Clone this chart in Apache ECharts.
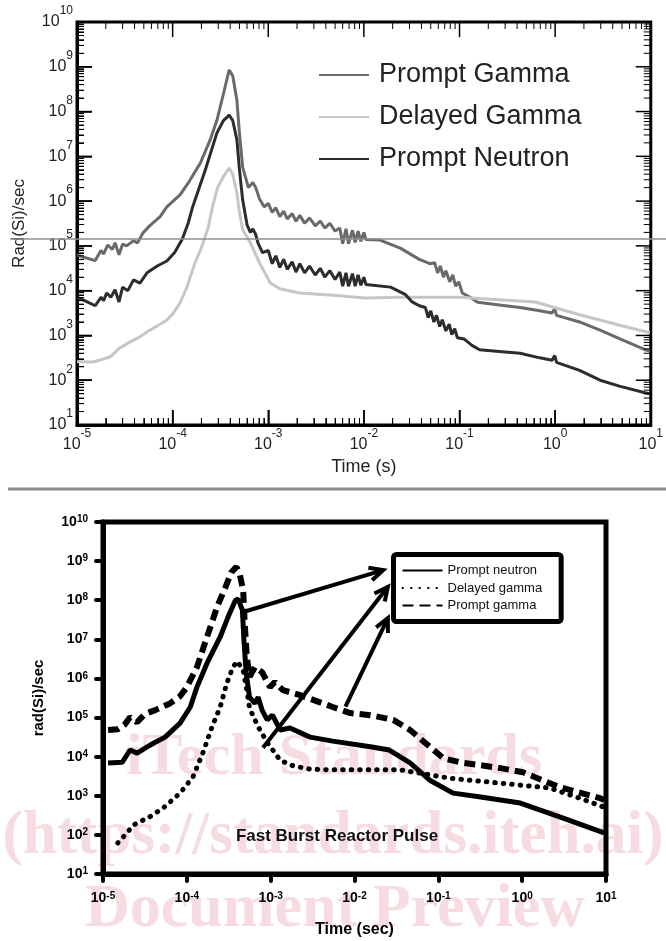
<!DOCTYPE html>
<html><head><meta charset="utf-8">
<script src="https://cdn.jsdelivr.net/npm/echarts@6/dist/echarts.min.js"></script>
<style>html,body{margin:0;padding:0;background:#fff}#c{width:666px;height:941px}</style>
</head><body><div id="c"></div><script>
// ---------- tick labels (powers of ten) ----------
const timeTickExp = [-5, -4, -3, -2, -1, 0, 1];
const rateTickExp = [1, 2, 3, 4, 5, 6, 7, 8, 9, 10];
const minorTickMultipliers = [2, 3, 4, 5, 6, 7, 8, 9];

// ---------- top panel series: [time (s), rate (rad(Si)/s)] ----------
const topPromptGamma = [[1.0e-5,6.3e4],[1.2e-5,5.5e4],[1.55e-5,4.7e4],[1.78e-5,7.9e4],[1.9e-5,6.6e4],[2.1e-5,1.05e5],[2.34e-5,8.3e4],[2.5e-5,1.17e5],[2.75e-5,6.3e4],[3.0e-5,1.1e5],[3.3e-5,1.0e5],[3.9e-5,1.3e5],[4.3e-5,1.17e5],[4.9e-5,1.95e5],[5.75e-5,2.8e5],[7.4e-5,4.5e5],[8.7e-5,7.4e5],[1.2e-4,1.4e6],[1.5e-4,2.8e6],[1.95e-4,7.1e6],[2.45e-4,2.24e7],[2.9e-4,6.3e7],[3.4e-4,2.5e8],[3.9e-4,8.5e8],[4.25e-4,6.3e8],[4.7e-4,1.8e8],[5.0e-4,3.2e7],[5.4e-4,5.75e6],[6.2e-4,2.0e6],[6.9e-4,2.6e6],[7.4e-4,2.0e6],[8.1e-4,1.12e6],[9.1e-4,7.4e5],[1.0e-3,8.9e5],[1.1e-3,5.6e5],[1.2e-3,7.1e5],[1.32e-3,4.5e5],[1.45e-3,6.0e5],[1.58e-3,4.0e5],[1.78e-3,5.25e5],[1.95e-3,3.55e5],[2.14e-3,4.8e5],[2.4e-3,3.2e5],[2.7e-3,4.2e5],[3.1e-3,2.8e5],[3.5e-3,3.6e5],[3.9e-3,2.5e5],[4.4e-3,3.2e5],[5.0e-3,2.14e5],[5.6e-3,2.5e5],[6.0e-3,1.12e5],[6.5e-3,2.4e5],[6.9e-3,1.12e5],[7.6e-3,2.24e5],[8.1e-3,1.2e5],[8.7e-3,2.14e5],[9.3e-3,1.26e5],[1.0e-2,2.0e5],[1.05e-2,1.38e5],[1.48e-2,1.35e5],[2.4e-2,8.9e4],[3.8e-2,5.0e4],[4.9e-2,4.0e4],[5.5e-2,4.2e4],[5.9e-2,2.5e4],[6.3e-2,3.55e4],[6.8e-2,2.0e4],[7.2e-2,2.8e4],[7.9e-2,1.58e4],[8.5e-2,2.24e4],[9.1e-2,1.26e4],[9.8e-2,1.58e4],[0.107,8.9e3],[0.129,7.1e3],[0.155,5.5e3],[0.26,4.8e3],[0.43,4.2e3],[0.69,3.55e3],[0.93,3.16e3],[0.99,4.0e3],[1.035,2.8e3],[1.8,2.0e3],[2.95,1.32e3],[4.7,8.5e2],[8.7,4.8e2],[9.8,4.5e2]];
const topDelayedGamma = [[1.0e-5,2.6e2],[1.45e-5,2.55e2],[1.74e-5,2.8e2],[2.0e-5,3.1e2],[2.2e-5,3.3e2],[2.5e-5,4.2e2],[2.8e-5,5.25e2],[3.55e-5,7.1e2],[4.55e-5,9.3e2],[5.75e-5,1.3e3],[7.4e-5,1.78e3],[8.7e-5,2.2e3],[1.0e-4,3.0e3],[1.2e-4,5.4e3],[1.41e-4,1.2e4],[1.7e-4,4.0e4],[1.95e-4,7.9e4],[2.35e-4,2.5e5],[2.63e-4,7.9e5],[2.95e-4,2.0e6],[3.4e-4,3.55e6],[3.9e-4,5.5e6],[4.25e-4,4.0e6],[4.7e-4,1.5e6],[5.0e-4,5.6e5],[5.4e-4,2.3e5],[6.5e-4,1.17e5],[8.1e-4,4.2e4],[1.05e-3,1.48e4],[1.32e-3,1.1e4],[2.14e-3,8.9e3],[4.8e-3,7.9e3],[1.02e-2,6.9e3],[2.4e-2,7.1e3],[0.1,7.1e3],[0.26,6.3e3],[0.62,5.6e3],[1.8,2.9e3],[6.0,1.48e3],[9.8,1.15e3]];
const topPromptNeutron = [[1.0e-5,7.2e3],[1.2e-5,6.0e3],[1.55e-5,4.6e3],[1.78e-5,7.1e3],[1.9e-5,6.0e3],[2.04e-5,8.9e3],[2.26e-5,7.1e3],[2.5e-5,1.05e4],[2.75e-5,5.6e3],[3.0e-5,1.2e4],[3.4e-5,1.0e4],[3.9e-5,1.74e4],[4.55e-5,1.48e4],[5.4e-5,2.5e4],[6.9e-5,3.55e4],[8.7e-5,4.6e4],[1.05e-4,7.1e4],[1.26e-4,1.41e5],[1.45e-4,3.16e5],[1.62e-4,7.4e5],[2.2e-4,5.0e6],[2.9e-4,3.3e7],[3.4e-4,6.3e7],[3.9e-4,8.3e7],[4.25e-4,6.3e7],[4.7e-4,2.34e7],[5.0e-4,5.0e6],[5.4e-4,1.07e6],[6.0e-4,2.95e5],[6.5e-4,2.0e5],[6.9e-4,2.4e5],[7.4e-4,1.78e5],[7.8e-4,1.17e5],[8.7e-4,7.1e4],[1.0e-3,7.9e4],[1.1e-3,4.0e4],[1.2e-3,6.0e4],[1.32e-3,3.3e4],[1.45e-3,5.0e4],[1.58e-3,3.0e4],[1.78e-3,4.4e4],[1.95e-3,2.6e4],[2.14e-3,4.0e4],[2.4e-3,2.5e4],[2.7e-3,3.55e4],[3.1e-3,2.24e4],[3.5e-3,3.16e4],[3.9e-3,2.0e4],[4.4e-3,2.8e4],[5.0e-3,1.78e4],[5.6e-3,2.6e4],[6.0e-3,1.26e4],[6.5e-3,2.5e4],[6.9e-3,1.26e4],[7.6e-3,2.4e4],[8.1e-3,1.26e4],[8.7e-3,2.24e4],[9.3e-3,1.32e4],[1.0e-2,2.0e4],[1.05e-2,1.38e4],[1.9e-2,1.2e4],[2.7e-2,8.3e3],[3.2e-2,5.6e3],[3.8e-2,4.6e3],[4.4e-2,4.2e3],[4.7e-2,2.5e3],[5.0e-2,3.55e3],[5.4e-2,2.0e3],[5.75e-2,2.8e3],[6.2e-2,1.58e3],[6.6e-2,2.24e3],[7.2e-2,1.26e3],[7.8e-2,1.78e3],[8.3e-2,1.05e3],[8.9e-2,1.41e3],[9.5e-2,8.9e2],[0.112,8.3e2],[0.135,6.0e2],[0.162,4.8e2],[0.26,4.4e2],[0.43,4.0e2],[0.69,3.16e2],[0.93,2.8e2],[0.99,3.55e2],[1.035,2.5e2],[1.8,1.66e2],[2.95,1.0e2],[4.7,7.4e1],[8.7,5.25e1],[9.8,5.0e1]];

// ---------- bottom panel series ----------
const botPromptNeutron = [[1.15e-5,6.9e3],[1.7e-5,7.2e3],[2.1e-5,1.48e4],[2.55e-5,1.23e4],[3.4e-5,1.8e4],[4.0e-5,2.2e4],[5.5e-5,3.16e4],[8.3e-5,7.2e4],[1.1e-4,1.86e5],[1.32e-4,6.0e5],[1.74e-4,2.45e6],[2.5e-4,1.15e7],[3.1e-4,3.7e7],[3.8e-4,1.0e8],[4.1e-4,1.07e8],[4.6e-4,5.6e7],[4.8e-4,9.5e6],[5.1e-4,1.38e6],[5.6e-4,3.3e5],[6.5e-4,2.3e5],[7.1e-4,3.3e5],[7.9e-4,1.55e5],[9.1e-4,8.7e4],[1.05e-3,1.15e5],[1.3e-3,4.8e4],[1.7e-3,5.4e4],[2.95e-3,3.16e4],[5.5e-3,2.5e4],[1.55e-2,1.8e4],[2.6e-2,1.48e4],[4.6e-2,6.9e3],[7.9e-2,2.5e3],[0.15,1.17e3],[0.32,9.3e2],[0.95,6.5e2],[2.8,2.9e2],[9.5,1.12e2]];
const botDelayedGamma = [[1.5e-5,6.2e1],[1.93e-5,1.12e2],[2.3e-5,1.78e2],[3.6e-5,2.9e2],[5.2e-5,4.8e2],[8.3e-5,1.17e3],[1.18e-4,3.0e3],[1.55e-4,1.23e4],[2.0e-4,5.8e4],[2.5e-4,1.86e5],[3.0e-4,7.6e5],[3.55e-4,1.95e6],[4.0e-4,2.75e6],[4.7e-4,1.62e6],[5.2e-4,5.0e5],[5.6e-4,1.74e5],[7.1e-4,5.8e4],[9.1e-4,2.3e4],[1.3e-3,8.1e3],[1.86e-3,5.8e3],[2.95e-3,4.8e3],[5.5e-3,4.6e3],[3.5e-2,4.6e3],[6.0e-2,3.8e3],[0.138,2.8e3],[0.55,2.1e3],[2.14,1.58e3],[5.6,7.8e2],[9.5,5.1e2]];
const botPromptGamma = [[1.15e-5,4.8e4],[1.5e-5,5.0e4],[1.8e-5,6.5e4],[2.1e-5,1.02e5],[2.55e-5,7.6e4],[3.16e-5,1.23e5],[4.2e-5,1.55e5],[6.3e-5,2.3e5],[8.3e-5,3.5e5],[1.0e-4,6.0e5],[1.32e-4,1.95e6],[1.74e-4,1.15e7],[2.3e-4,6.8e7],[2.9e-4,2.2e8],[3.4e-4,5.2e8],[3.9e-4,7.1e8],[4.3e-4,4.4e8],[4.7e-4,1.8e8],[4.9e-4,2.6e7],[5.2e-4,3.5e6],[5.6e-4,1.1e6],[6.5e-4,1.95e6],[7.9e-4,1.45e6],[9.8e-4,6.0e5],[1.12e-3,8.1e5],[1.4e-3,5.0e5],[2.2e-3,3.8e5],[5.5e-3,1.86e5],[8.9e-3,1.3e5],[1.55e-2,1.15e5],[2.9e-2,8.7e4],[4.6e-2,4.8e4],[7.9e-2,1.8e4],[0.115,9.1e3],[0.18,7.2e3],[0.55,5.1e3],[1.02,4.0e3],[2.8,1.66e3],[8.5,8.7e2],[9.5,7.8e2]];

// ---------- annotation arrows (data space) ----------
const arrowFromTime = [4.7e-4, 8.1e-4, 7.8e-3];
const arrowFromRate = [5.0e7, 1.7e4, 1.9e5];
const arrowToTime = [2.2e-2, 2.5e-2, 2.5e-2];
const arrowToRate = [5.9e8, 2.2e8, 3.5e7];

const SANS = '"Liberation Sans", Arial, Helvetica, sans-serif';
const SERIF = '"Liberation Serif", "Times New Roman", serif';
function expLabel(v) {
  return '{b|10}{e|' + Math.round(Math.log10(v)) + '}';
}

// tick-mark positions of the upper panel frame (axis decoration, derived from the tick exponents)
const tMin = Math.pow(10, timeTickExp[0]);
const tMax = Math.pow(10, timeTickExp[timeTickExp.length - 1]);
const rMin = Math.pow(10, rateTickExp[0]);
const rMax = Math.pow(10, rateTickExp[rateTickExp.length - 1]);
const frameTicks = [];
timeTickExp.forEach(function (e, i) {
  frameTicks.push([Math.pow(10, e), rMin, 0, 15]);
  if (i < timeTickExp.length - 1) {
    minorTickMultipliers.forEach(function (m) { frameTicks.push([m * Math.pow(10, e), rMin, 0, 7]); });
  }
});
rateTickExp.forEach(function (e, i) {
  frameTicks.push([tMin, Math.pow(10, e), 1, 15]);
  if (i < rateTickExp.length - 1) {
    minorTickMultipliers.forEach(function (m) { frameTicks.push([tMin, m * Math.pow(10, e), 1, 7]); });
  }
});

const chart = echarts.init(document.getElementById('c'), null, {renderer: 'canvas'});

const topRich = {
  b: {fontSize: 16, fontFamily: SANS, color: '#222'},
  e: {fontSize: 12, fontFamily: SANS, color: '#222', padding: [0, 0, 22, 0]}
};
const botRich = {
  b: {fontSize: 14, fontWeight: 'bold', fontFamily: SANS, color: '#000'},
  e: {fontSize: 10, fontWeight: 'bold', fontFamily: SANS, color: '#000', padding: [0, 0, 5, 0]}
};

const option = {
  animation: false,
  grid: [
    {left: 77, top: 22, width: 574, height: 403, show: true, borderColor: '#000', borderWidth: 3, backgroundColor: 'transparent'},
    {left: 103, top: 522, width: 503, height: 352, show: true, borderColor: '#000', borderWidth: 5, backgroundColor: 'transparent'}
  ],
  xAxis: [
    {
      type: 'log', logBase: 10, gridIndex: 0, min: 1e-5, max: 10, splitNumber: 6,
      axisLine: {show: true, onZero: false, lineStyle: {color: '#000', width: 3}},
      axisTick: {show: true, inside: true, length: 15, lineStyle: {color: '#000', width: 1.5}},
      minorTick: {show: true, splitNumber: 9, length: 7, lineStyle: {color: '#000', width: 1}},
      splitLine: {show: false}, minorSplitLine: {show: false},
      axisLabel: {margin: 3, formatter: expLabel, rich: topRich},
      name: 'Time (s)', nameLocation: 'middle', nameGap: 33,
      nameTextStyle: {fontSize: 18, fontFamily: SANS, color: '#222'}
    },
    {
      type: 'log', logBase: 10, gridIndex: 1, min: 1e-5, max: 10, splitNumber: 6,
      axisLine: {show: true, onZero: false, lineStyle: {color: '#000', width: 5}},
      axisTick: {show: true, inside: false, length: 7, lineStyle: {color: '#000', width: 4, cap: 'round'}},
      splitLine: {show: false},
      axisLabel: {margin: 17, formatter: expLabel, rich: botRich},
      name: 'Time (sec)', nameLocation: 'middle', nameGap: 48,
      nameTextStyle: {fontSize: 16, fontWeight: 'bold', fontFamily: SANS, color: '#000'}
    }
  ],
  yAxis: [
    {
      type: 'log', logBase: 10, gridIndex: 0, min: 10, max: 1e10, splitNumber: 9,
      axisLine: {show: true, onZero: false, lineStyle: {color: '#000', width: 3}},
      axisTick: {show: true, inside: true, length: 15, lineStyle: {color: '#000', width: 1.5}},
      minorTick: {show: true, splitNumber: 9, length: 7, lineStyle: {color: '#000', width: 1}},
      splitLine: {show: false}, minorSplitLine: {show: false},
      axisLabel: {margin: 4, formatter: expLabel, rich: topRich},
      name: 'Rad(Si)/sec', nameLocation: 'middle', nameGap: 49, nameRotate: 90,
      nameTextStyle: {fontSize: 17, fontFamily: SANS, color: '#222'}
    },
    {
      type: 'log', logBase: 10, gridIndex: 1, min: 10, max: 1e10, splitNumber: 9,
      axisLine: {show: true, onZero: false, lineStyle: {color: '#000', width: 5}},
      axisTick: {show: true, inside: false, length: 7, lineStyle: {color: '#000', width: 4, cap: 'round'}},
      splitLine: {show: false},
      axisLabel: {margin: 15, formatter: expLabel, rich: botRich},
      name: 'rad(Si)/sec', nameLocation: 'middle', nameGap: 57, nameRotate: 90,
      nameTextStyle: {fontSize: 15, fontWeight: 'bold', fontFamily: SANS, color: '#000'}
    }
  ],
  legend: [
    {
      data: ['Prompt Gamma', 'Delayed Gamma', 'Prompt Neutron'],
      orient: 'vertical', left: 313, top: 55, padding: 5,
      itemWidth: 50, itemHeight: 14, itemGap: 12,
      itemStyle: {opacity: 0},
      textStyle: {fontSize: 27, lineHeight: 30, fontFamily: SANS, color: '#222', padding: [0, 0, 0, 5]}
    },
    {
      data: ['Prompt neutron', 'Delayed gamma', 'Prompt gamma'],
      orient: 'vertical', left: 393.5, top: 554.5, padding: [9, 19, 9, 8],
      itemWidth: 40, itemHeight: 10, itemGap: 3.5,
      itemStyle: {opacity: 0},
      borderColor: '#000', borderWidth: 5, borderRadius: 3, backgroundColor: '#fff',
      textStyle: {fontSize: 13, lineHeight: 14, fontFamily: SANS, color: '#111'}
    }
  ],
  graphic: [
    {type: 'text', x: 334, y: 758, z: -5, silent: true,
     style: {text: 'iTech Standards', font: 'bold 60px ' + SERIF, fill: '#f6dbe1', align: 'center', verticalAlign: 'middle'}},
    {type: 'text', x: 333, y: 837, z: -5, silent: true,
     style: {text: '(https://standards.iteh.ai)', font: 'bold 61px ' + SERIF, fill: '#f6dbe1', align: 'center', verticalAlign: 'middle'}},
    {type: 'text', x: 335, y: 910, z: -5, silent: true,
     style: {text: 'Document Preview', font: 'bold 62px ' + SERIF, fill: '#f6dbe1', align: 'center', verticalAlign: 'middle'}},
    {type: 'text', x: 337, y: 836, z: 50, silent: true,
     style: {text: 'Fast Burst Reactor Pulse', font: 'bold 17px ' + SANS, fill: '#111', align: 'center', verticalAlign: 'middle'}},
    {type: 'line', z: 100, silent: true, shape: {x1: 10, y1: 239, x2: 666, y2: 239}, style: {stroke: '#8f8f8f', lineWidth: 1.5}},
    {type: 'line', z: 100, silent: true, shape: {x1: 8, y1: 489, x2: 666, y2: 489}, style: {stroke: '#8c8c8c', lineWidth: 3}}
  ],
  series: [
    {name: 'Prompt Gamma', type: 'line', xAxisIndex: 0, yAxisIndex: 0, data: topPromptGamma,
     symbol: 'none', showSymbol: false, lineStyle: {color: '#6a6a6a', width: 3}, itemStyle: {color: '#6a6a6a'}},
    {name: 'Delayed Gamma', type: 'line', xAxisIndex: 0, yAxisIndex: 0, data: topDelayedGamma,
     symbol: 'none', showSymbol: false, lineStyle: {color: '#c6c6c6', width: 3}, itemStyle: {color: '#c6c6c6'}},
    {name: 'Prompt Neutron', type: 'line', xAxisIndex: 0, yAxisIndex: 0, data: topPromptNeutron,
     symbol: 'none', showSymbol: false, lineStyle: {color: '#2c2c2c', width: 3}, itemStyle: {color: '#2c2c2c'}},
    {name: 'frame ticks', type: 'custom', xAxisIndex: 0, yAxisIndex: 0, silent: true, z: 8, clip: false,
     data: frameTicks, encode: {x: 0, y: 1},
     renderItem: function (params, api) {
       const kind = api.value(2), len = api.value(3);
       const st = {stroke: '#000', lineWidth: len > 10 ? 1.5 : 1};
       if (kind === 0) {
         const b = api.coord([api.value(0), rMin]);
         const t = api.coord([api.value(0), rMax]);
         return {type: 'group', children: [
           {type: 'line', shape: {x1: b[0], y1: b[1], x2: b[0], y2: b[1] - len}, style: st},
           {type: 'line', shape: {x1: t[0], y1: t[1], x2: t[0], y2: t[1] + len}, style: st}
         ]};
       }
       const l = api.coord([tMin, api.value(1)]);
       const r = api.coord([tMax, api.value(1)]);
       return {type: 'group', children: [
         {type: 'line', shape: {x1: l[0], y1: l[1], x2: l[0] + len, y2: l[1]}, style: st},
         {type: 'line', shape: {x1: r[0], y1: r[1], x2: r[0] - len, y2: r[1]}, style: st}
       ]};
     }},
    {name: 'Prompt neutron', type: 'line', xAxisIndex: 1, yAxisIndex: 1, data: botPromptNeutron,
     symbol: 'none', showSymbol: false, lineStyle: {color: '#000', width: 5}, itemStyle: {color: '#000'}},
    {name: 'Delayed gamma', type: 'line', xAxisIndex: 1, yAxisIndex: 1, data: botDelayedGamma,
     symbol: 'none', showSymbol: false, lineStyle: {color: '#000', width: 5, type: [0.5, 8], cap: 'round'}, itemStyle: {color: '#000'}},
    {name: 'Prompt gamma', type: 'line', xAxisIndex: 1, yAxisIndex: 1, data: botPromptGamma,
     symbol: 'none', showSymbol: false, lineStyle: {color: '#000', width: 6, type: [11, 6]}, itemStyle: {color: '#000'}},
    {name: 'arrows', type: 'custom', xAxisIndex: 1, yAxisIndex: 1, silent: true, z: 6,
     data: arrowFromTime.map((t, i) => [t, arrowFromRate[i], arrowToTime[i], arrowToRate[i]]),
     encode: {x: [0, 2], y: [1, 3]},
     renderItem: function (params, api) {
       const p0 = api.coord([api.value(0), api.value(1)]);
       const p1 = api.coord([api.value(2), api.value(3)]);
       const ang = Math.atan2(p1[1] - p0[1], p1[0] - p0[0]);
       const L = 15, a = 0.45;
       const h1 = [p1[0] - L * Math.cos(ang - a), p1[1] - L * Math.sin(ang - a)];
       const h2 = [p1[0] - L * Math.cos(ang + a), p1[1] - L * Math.sin(ang + a)];
       return {type: 'group', children: [
         {type: 'line', shape: {x1: p0[0], y1: p0[1], x2: p1[0], y2: p1[1]}, style: {stroke: '#000', lineWidth: 4}},
         {type: 'polyline', shape: {points: [h1, p1, h2]}, style: {stroke: '#000', lineWidth: 4, fill: null, lineJoin: 'miter'}}
       ]};
     }}
  ]
};
chart.setOption(option);
</script></body></html>
